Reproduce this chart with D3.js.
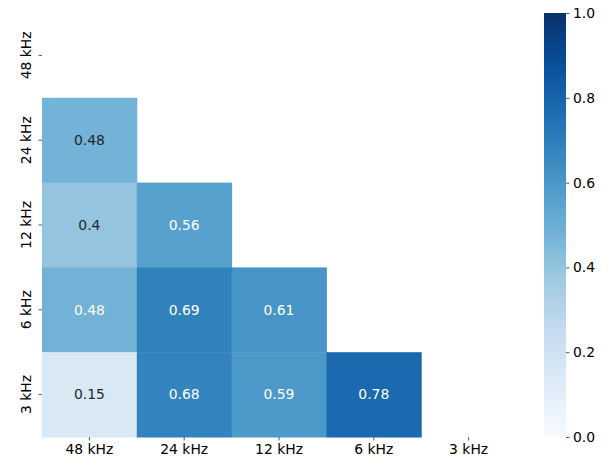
<!DOCTYPE html>
<html lang="en">
<head>
<meta charset="UTF-8">
<title>Correlation heatmap</title>
<script src="https://cdn.jsdelivr.net/npm/d3@7"></script>
<style>
  body { margin: 0; background: #fff; }
  text { font-family: "DejaVu Sans", sans-serif; }
</style>
</head>
<body>
<script>
// labels for rows and columns
var freqLabels = ["48 kHz", "24 kHz", "12 kHz", "6 kHz", "3 kHz"];
// lower triangle values, one list per row (row 0 is fully masked)
var row48 = [];
var row24 = [0.477];
var row12 = [0.40, 0.56];
var row6  = [0.484, 0.69, 0.61];
var row3  = [0.15, 0.68, 0.59, 0.78];
var colorbarTicks = [0, 0.2, 0.4, 0.6, 0.8, 1.0];

var rows = [row48, row24, row12, row6, row3];

var width = 611, height = 462;
var plot = {left: 42, right: 516, top: 13, bottom: 437};

var svg = d3.select("body").append("svg")
    .attr("width", width)
    .attr("height", height);

// matplotlib Blues
var bluesStops = ["#f7fbff","#deebf7","#c6dbef","#9ecae1","#6baed6","#4292c6","#2171b5","#08519c","#08306b"];
var color = d3.scaleLinear()
    .domain(d3.range(9).map(function (i) { return i / 8; }))
    .range(bluesStops)
    .interpolate(d3.interpolateRgb)
    .clamp(true);

var x = d3.scaleBand().domain(freqLabels).range([plot.left, plot.right]);
var y = d3.scaleBand().domain(freqLabels).range([plot.top, plot.bottom]);

// same rule as seaborn: dark text on light cells
function textColor(c) {
    var rgb = d3.rgb(c);
    var ch = [rgb.r, rgb.g, rgb.b].map(function (v) {
        v = v / 255;
        return v <= 0.03928 ? v / 12.92 : Math.pow((v + 0.055) / 1.055, 2.4);
    });
    var lum = 0.2126 * ch[0] + 0.7152 * ch[1] + 0.0722 * ch[2];
    return lum > 0.408 ? "#262626" : "#ffffff";
}

var cells = [];
rows.forEach(function (vals, i) {
    vals.forEach(function (v, j) {
        cells.push({row: freqLabels[i], col: freqLabels[j], value: v});
    });
});

var fmt = d3.format(".2~g");

svg.selectAll("rect.cell")
    .data(cells)
    .enter().append("rect")
    .attr("class", "cell")
    .attr("x", function (d) { return x(d.col); })
    .attr("y", function (d) { return y(d.row); })
    .attr("width", x.bandwidth() + 0.5)
    .attr("height", y.bandwidth() + 0.5)
    .attr("fill", function (d) { return color(d.value); });

svg.selectAll("text.annot")
    .data(cells)
    .enter().append("text")
    .attr("class", "annot")
    .attr("x", function (d) { return x(d.col) + x.bandwidth() / 2; })
    .attr("y", function (d) { return y(d.row) + y.bandwidth() / 2; })
    .attr("dy", "0.35em")
    .attr("text-anchor", "middle")
    .attr("font-size", "13.9px")
    .attr("fill", function (d) { return textColor(color(d.value)); })
    .text(function (d) { return fmt(d.value); });

// axes
var axisX = d3.axisBottom(x).tickSize(3.5).tickPadding(3.5);
var gx = svg.append("g")
    .attr("transform", "translate(0," + plot.bottom + ")")
    .call(axisX);
gx.select(".domain").remove();
gx.selectAll("text").attr("font-size", "13.9px").attr("fill", "#000")
    .attr("font-family", "DejaVu Sans").attr("dy", "0.75em");
gx.selectAll("line").attr("stroke", "#333").attr("stroke-width", 0.8);

var axisY = d3.axisLeft(y).tickSize(3.5).tickPadding(3.5);
var gy = svg.append("g")
    .attr("transform", "translate(" + plot.left + ",0)")
    .call(axisY);
gy.select(".domain").remove();
gy.selectAll("line").attr("stroke", "#333").attr("stroke-width", 0.8);
gy.selectAll("text").remove();
gy.selectAll(".tick").append("text")
    .attr("transform", "translate(-11,0) rotate(-90)")
    .attr("text-anchor", "middle")
    .attr("font-size", "13.9px")
    .attr("font-family", "DejaVu Sans")
    .attr("fill", "#000")
    .text(function (d) { return d; });

// colorbar
var cb = {x: 544, w: 22, top: 13, bottom: 437};
var defs = svg.append("defs");
var grad = defs.append("linearGradient")
    .attr("id", "cbgrad")
    .attr("x1", 0).attr("y1", 1).attr("x2", 0).attr("y2", 0);
grad.selectAll("stop")
    .data(d3.range(0, 1.0001, 0.02))
    .enter().append("stop")
    .attr("offset", function (d) { return d; })
    .attr("stop-color", function (d) { return color(d); });

svg.append("rect")
    .attr("x", cb.x).attr("y", cb.top)
    .attr("width", cb.w).attr("height", cb.bottom - cb.top)
    .attr("fill", "url(#cbgrad)");

var cbScale = d3.scaleLinear().domain([0, 1]).range([cb.bottom, cb.top]);
var cbAxis = d3.axisRight(cbScale).tickValues(colorbarTicks)
    .tickFormat(d3.format(".1f")).tickSize(3.5).tickPadding(3.5);
var gcb = svg.append("g")
    .attr("transform", "translate(" + (cb.x + cb.w) + ",0)")
    .call(cbAxis);
gcb.select(".domain").remove();
gcb.selectAll("line").attr("stroke", "#333").attr("stroke-width", 0.8);
gcb.selectAll("text").attr("font-size", "13.9px").attr("fill", "#000")
    .attr("font-family", "DejaVu Sans");
</script>
</body>
</html>
